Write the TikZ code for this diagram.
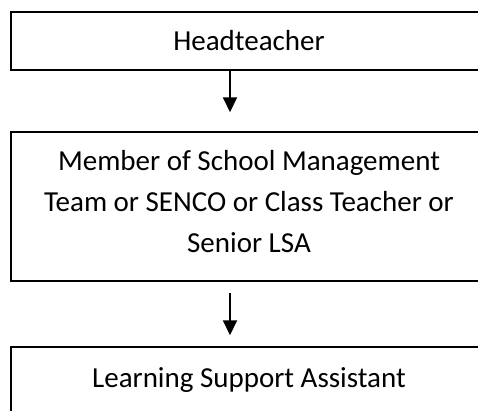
\documentclass[tikz,border=0pt]{standalone}
\usepackage{fontspec}
\setmainfont{Carlito}
\usetikzlibrary{arrows.meta}
\begin{document}
\begin{tikzpicture}[x=1pt,y=1pt,
  box/.style={draw=black,line width=1.5pt,minimum width=476pt,inner sep=0pt,fill=white},
  txt/.style={inner sep=0pt,font=\fontsize{29}{41}\selectfont,align=center},
  arr/.style={line width=2pt,-{Triangle[width=14pt,length=15pt]}}]
\useasboundingbox (0,0) rectangle (478,-410);
\clip (0,0) rectangle (478,-410);
\fill[white] (0,0) rectangle (478,-410);
\node[box,minimum height=58pt] (top) at (249,-41) {};
\node[box,minimum height=149pt] (mid) at (249,-206.5) {};
\node[box,minimum height=120pt] (bot) at (249,-407) {};
\node[txt,anchor=base] (toptext) at (249,-50) {Headteacher};
\node[txt,anchor=base] (midtext) at (249,-252) {Member of School Management\\Team or SENCO or Class Teacher or\\Senior LSA};
\node[txt,anchor=base] (bottext) at (249,-387) {Learning Support Assistant};
\draw[arr,shorten >=19pt] ([xshift=-19pt]top.south) -- ([xshift=-19pt]mid.north);
\draw[arr,shorten <=11pt,shorten >=11pt] ([xshift=-19pt]mid.south) -- ([xshift=-19pt]bot.north);
\end{tikzpicture}
\end{document}
